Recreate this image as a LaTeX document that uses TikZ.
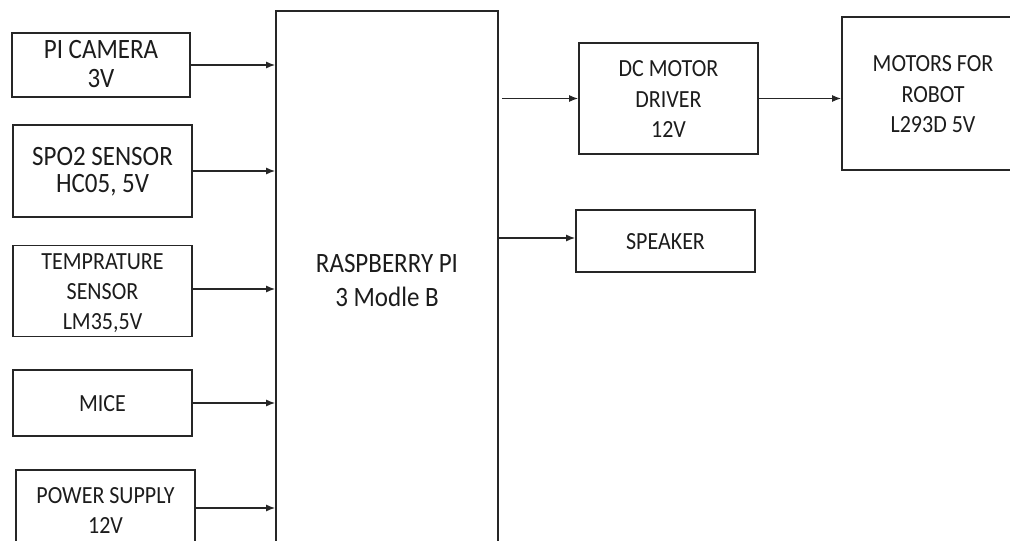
\documentclass[tikz,border=0pt]{standalone}
\usepackage{fontspec}
\setmainfont{Carlito}
\usetikzlibrary{arrows.meta}
\definecolor{linec}{HTML}{262626}
\definecolor{textc}{HTML}{1c1c1c}
\newcommand\tallstack[1]{\raisebox{-2.5pt}[\height][\depth]{\scalebox{1}[1.12]{\begin{tabular}{@{}c@{}}#1\end{tabular}}}}
\begin{document}
\begin{tikzpicture}[x=1pt,y=-1pt,
  box/.style={draw=linec, line width=1.6pt, rectangle, inner sep=0pt, text=textc, font=\fontsize{22}{27}\selectfont},
  big/.style={font=\fontsize{25}{26}\selectfont},
  arr/.style={draw=linec, line width=1.5pt, -{Latex[length=9pt,width=7pt]}}]
\useasboundingbox (0,0) rectangle (1010,541);
\clip (0,0) rectangle (1010,541);
% left column
\node[box, big, minimum width=178pt, minimum height=64pt] (cam) at (101,65) {\tallstack{PI CAMERA\\3V}};
\node[box, minimum width=179pt, minimum height=92pt, font=\fontsize{25}{24}\selectfont] (spo) at (102.5,171) {\tallstack{SPO2 SENSOR\\HC05, 5V}};
\node[box, minimum width=179pt, minimum height=90pt] (temp) at (102.5,291) {\tallstack{TEMPRATURE\\SENSOR\\LM35,5V}};
\node[box, minimum width=179pt, minimum height=66pt] (mice) at (102.5,403) {\tallstack{MICE}};
\node[box, minimum width=179pt, minimum height=80pt] (pow) at (105.5,510) {\tallstack{POWER SUPPLY\\12V}};
% central
\node[box, minimum width=222pt, minimum height=538pt, font=\fontsize{25}{30}\selectfont] (rpi) at (387,280) {\tallstack{RASPBERRY PI\\3 Modle B}};
% right
\node[box, minimum width=179pt, minimum height=111pt] (dc) at (668.5,98.5) {\tallstack{DC MOTOR\\DRIVER\\12V}};
\node[box, minimum width=182pt, minimum height=153pt] (mot) at (933,93.5) {\tallstack{MOTORS FOR\\ROBOT\\L293D 5V}};
\node[box, minimum width=179pt, minimum height=62pt] (spk) at (665.5,241) {\tallstack{SPEAKER}};
% connectors
\draw[arr] (cam.east) -- (cam.east -| rpi.west);
\draw[arr] (spo.east) -- (spo.east -| rpi.west);
\draw[arr] ([yshift=2pt]temp.east) -- ([yshift=2pt]temp.east -| rpi.west);
\draw[arr] (mice.east) -- (mice.east -| rpi.west);
\draw[arr] ([yshift=2pt]pow.east) -- ([yshift=2pt]pow.east -| rpi.west);
\draw[arr] ([xshift=3pt]dc.west -| rpi.east) -- (dc.west);
\draw[arr] ([yshift=3pt]spk.west -| rpi.east) -- ([yshift=3pt]spk.west);
\draw[arr] (dc.east) -- (mot.west |- dc.east);
\end{tikzpicture}
\end{document}
